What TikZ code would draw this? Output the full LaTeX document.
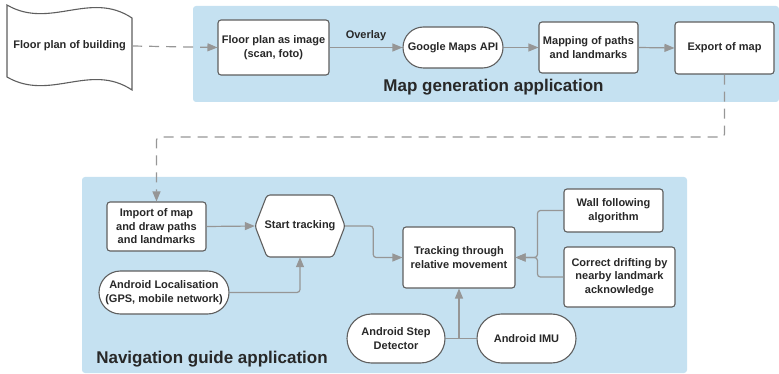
\documentclass[tikz,border=0pt]{standalone}
\usepackage{fontspec}
\setmainfont{Liberation Sans}
\usetikzlibrary{calc, arrows.meta, shapes.misc}
\definecolor{panelblue}{RGB}{197,225,241}
\definecolor{linegray}{RGB}{150,150,150}
\definecolor{boxgray}{RGB}{95,95,95}
\definecolor{textgray}{RGB}{40,40,40}

\begin{document}
\begin{tikzpicture}[x=1pt, y=-1pt, >={Triangle[length=10pt, width=8pt]},
  every node/.style={font=\bfseries\fontsize{11}{13.5}\selectfont, text=textgray, align=center, inner sep=0pt},
  box/.style={draw=boxgray, line width=1.1pt, fill=white, rounded corners=3pt},
  pill/.style={draw=boxgray, line width=1.1pt, fill=white, rounded rectangle},
  title/.style={font=\bfseries\fontsize{17}{20}\selectfont},
  conn/.style={draw=linegray, line width=1.2pt, ->, rounded corners=3pt},
  dashconn/.style={conn, dash pattern=on 10pt off 7pt}]
\useasboundingbox (0,0) rectangle (779,374);
\fill [panelblue, rounded corners=3pt] (193,6) rectangle (779,102);
\fill [panelblue, rounded corners=3pt] (82,177) rectangle (687,373);

\draw [box, rounded corners=0pt] (7,5) .. controls (50,30) and (90,-10) .. (132,18) -- (132,90) .. controls (90,62) and (50,102) .. (7,77) -- cycle;
\node (doc) at (69.5,46) [minimum width=125pt, minimum height=60pt] {Floor plan of building};

\node (img) at (273.5,47.5) [box, minimum width=111pt, minimum height=55pt] {Floor plan as image\\(scan, foto)};
\node (gmaps) at (453,47.5) [pill, minimum width=100pt, minimum height=41pt] {Google Maps API};
\node (mapping) at (588.5,47.5) [box, minimum width=99pt, minimum height=51pt] {Mapping of paths\\and landmarks};
\node (export) at (724.5,48) [box, minimum width=99pt, minimum height=52pt] {Export of map};
\node (maptitle) at (493.5,87) [title] {Map generation application};

\node (import) at (156.5,226.5) [box, minimum width=99pt, minimum height=49pt] {Import of map\\and draw paths\\and landmarks};
\draw [box] (255,226) -- (267,195) -- (333,195) -- (345,226) -- (333,257) -- (267,257) -- cycle;
\node (start) at (300,226) [minimum width=90pt, minimum height=62pt] {Start tracking};
\node (localis) at (164,292.5) [pill, minimum width=130pt, minimum height=43pt] {Android Localisation\\(GPS, mobile network)};
\node (tracking) at (459,257.5) [box, minimum width=112pt, minimum height=61pt] {Tracking through\\relative movement};
\node (wall) at (613.5,210.5) [box, minimum width=99pt, minimum height=43pt] {Wall following\\algorithm};
\node (correct) at (619.5,277) [box, minimum width=111pt, minimum height=60pt] {Correct drifting by\\nearby landmark\\acknowledge};
\node (step) at (396,338.5) [pill, minimum width=98pt, minimum height=49pt] {Android Step\\Detector};
\node (imu) at (526.5,338.5) [pill, minimum width=99pt, minimum height=49pt] {Android IMU};
\node (navtitle) at (212,359) [title] {Navigation guide application};

\draw [dashconn] (doc.east) -- (img.west);
\draw [conn] (img.east) -- node [above=6pt] (ovl) {Overlay} (gmaps.west);
\draw [conn] (gmaps.east) -- (mapping.west);
\draw [conn] (mapping.east) -- (export.west);
\coordinate (bend) at (724.5,137);
\draw [dashconn] (export.south) -- (bend) -| (import.north);

\draw [conn] (import.east) -- (start.west);
\draw [conn] (localis.east) -| (start.south);
\draw [conn] (start.east) -- ++(28,0) |- (tracking.west);
\draw [conn] (wall.west) -- ++(-26,0) |- (tracking.east);
\draw [conn] (correct.west) -- ++(-26,0) |- (tracking.east);
\draw [conn, -] (step.east) -- (imu.west);
\draw [conn] (step.east -| tracking.south) -- (tracking.south);
\end{tikzpicture}
\end{document}
